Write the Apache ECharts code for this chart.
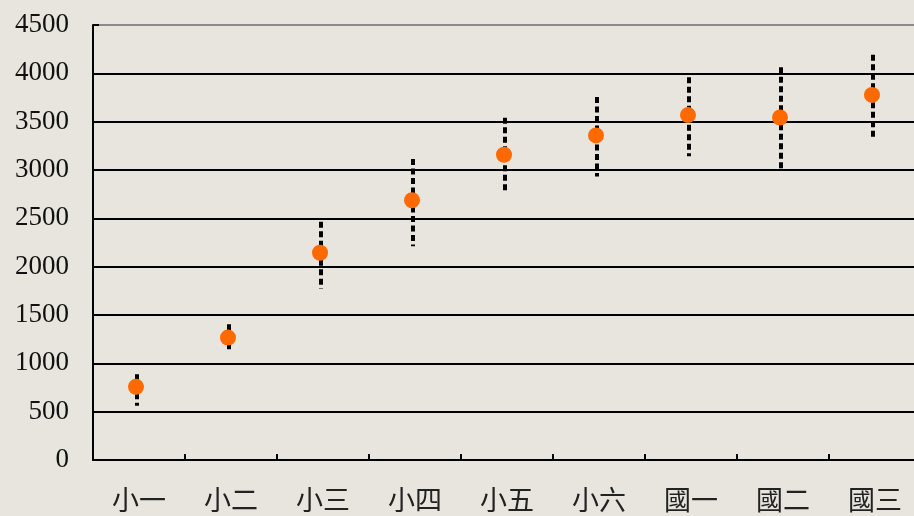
<!DOCTYPE html>
<html>
<head>
<meta charset="utf-8">
<script src="https://cdn.jsdelivr.net/npm/echarts@6/dist/echarts.min.js"></script>
<style>
html,body{margin:0;padding:0;background:#e8e4de;overflow:hidden;}
#chart{width:930px;height:516px;}
</style>
</head>
<body>
<div id="chart"></div>
<script>
const categories = ['小一','小二','小三','小四','小五','小六','國一','國二','國三'];
const means = [757, 1266, 2144, 2687, 3158, 3358, 3568, 3543, 3777];
const lows  = [560, 1128, 1772, 2212, 2780, 2934, 3141, 2986, 3320];
const highs = [888, 1404, 2464, 3114, 3540, 3754, 3960, 4063, 4193];
const yTicks = [0, 500, 1000, 1500, 2000, 2500, 3000, 3500, 4000, 4500];

const errData = categories.map((c, i) => [i, lows[i], highs[i]]);
const chart = echarts.init(document.getElementById('chart'));
const gridColors = yTicks.map((v, i) => i === yTicks.length - 1 ? '#8a8a8a' : '#000');

chart.setOption({
  backgroundColor: '#e8e4de',
  animation: false,
  grid: {left: 93, top: 25, height: 436, width: 828, containLabel: false},
  xAxis: {
    type: 'category',
    data: categories,
    boundaryGap: true,
    axisLine: {lineStyle: {color: '#000', width: 2}},
    axisTick: {show: true, interval: 0, inside: true, length: 6, lineStyle: {color: '#000', width: 2}},
    axisLabel: {
      interval: 0,
      margin: 29, color: '#222',
      fontFamily: '"Liberation Serif", "Noto Sans CJK TC", serif',
      fontSize: 27
    }
  },
  yAxis: {
    type: 'value',
    min: yTicks[0], max: yTicks[yTicks.length - 1], interval: 500,
    axisLine: {show: true, lineStyle: {color: '#000', width: 2}},
    axisTick: {show: true, inside: true, length: 6, lineStyle: {color: '#000', width: 2}},
    splitLine: {show: true, lineStyle: {color: gridColors, width: 2}},
    axisLabel: {
      margin: 24, color: '#111',
      fontFamily: '"Liberation Serif", serif',
      fontSize: 27,
      padding: [4, 0, 0, 0],
      formatter: function (v) { return String(v); }
    }
  },
  series: [
    {
      type: 'custom',
      data: errData,
      z: 3,
      renderItem: function (params, api) {
        const x = api.value(0);
        const lo = api.coord([x, api.value(1)]);
        const hi = api.coord([x, api.value(2)]);
        return {
          type: 'line',
          shape: {x1: lo[0] - 2, y1: hi[1], x2: lo[0] - 2, y2: lo[1]},
          style: {stroke: '#000', lineWidth: 4, lineDash: [6, 3.5], fill: null}
        };
      }
    },
    {
      type: 'scatter',
      data: means,
      z: 5,
      symbol: 'circle',
      symbolSize: 16,
      symbolOffset: [-3, 0],
      itemStyle: {color: '#ff6a00', opacity: 1}
    }
  ]
});
</script>
</body>
</html>
